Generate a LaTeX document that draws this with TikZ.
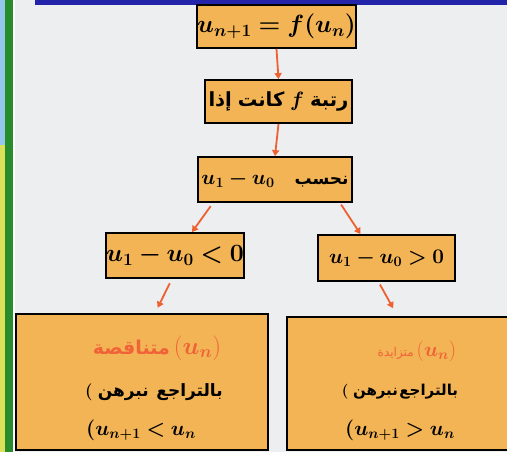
\documentclass[tikz,border=0pt]{standalone}
\usepackage{fontspec}
\usepackage{bm}
\usetikzlibrary{arrows.meta}
\newfontfamily\arabicfont[Script=Arabic]{DejaVu Sans}
\definecolor{bgc}{RGB}{236,238,240}
\definecolor{boxfill}{RGB}{242,180,84}
\definecolor{arrowc}{RGB}{238,96,48}
\definecolor{topbar}{RGB}{36,36,170}
\definecolor{greenbar}{RGB}{40,140,45}
\definecolor{bluestrip}{RGB}{150,200,235}
\definecolor{yellowstrip}{RGB}{220,225,90}
\definecolor{redtext}{RGB}{240,98,56}
% each word boxed on its own, so words stand left to right as in the picture
\newcommand{\aw}[1]{\hbox{\arabicfont\bfseries #1}}
\newcommand{\awn}[1]{\hbox{\arabicfont #1}}
\tikzset{
  mybox/.style={draw=black, line width=1.8pt, fill=boxfill, inner sep=0pt},
  myarr/.style={draw=arrowc, line width=1.8pt, -{Triangle[width=7pt,length=6pt]}},
  mytxt/.style={inner sep=0pt}
}
\begin{document}
\begin{tikzpicture}[x=1pt,y=1pt]
\useasboundingbox (0,0) rectangle (507,452);
\begin{scope}
\clip (0,0) rectangle (507,452);
\fill[bgc] (0,0) rectangle (507,452);
\fill[bluestrip] (0,307) rectangle (4.5,452);
\fill[yellowstrip] (0,0) rectangle (4.5,307);
\fill[greenbar] (5,0) rectangle (13,452);
\fill[white] (13,0) rectangle (15,452);
\fill[topbar] (35,447) rectangle (507,452);
\end{scope}
\node[mybox, minimum width=153pt, minimum height=43pt] (b1) at (276.5,425.5) {\fontsize{23.5}{27}\selectfont$\bm{u_{n+1}=f(u_n)}$};
\node[mybox, minimum width=147pt, minimum height=43pt] (b2) at (278.5,350.5) {\fontsize{19.5}{23}\selectfont\aw{إذا}\hspace{0.3em}\aw{كانت}\hspace{0.3em}$\bm{f}$\hspace{0.3em}\aw{رتبة}};
\node[mybox, minimum width=154pt, minimum height=45pt] (b3) at (275,272.5) {\fontsize{21}{25}\selectfont$\bm{u_1-u_0}$\hspace{20pt}{\fontsize{17}{21}\selectfont\aw{نحسب}}};
\node[mybox, minimum width=136pt, minimum height=45pt] (b4) at (175,196.5) {\fontsize{24}{28}\selectfont$\bm{u_1-u_0<0}$};
\node[mybox, minimum width=137pt, minimum height=46pt] (b5) at (386.5,194) {\fontsize{22.5}{26}\selectfont$\bm{u_1-u_0>0}$};
\begin{scope}
\clip (0,0) rectangle (507,452);
\node[mybox, minimum width=252pt, minimum height=136pt] (b6) at (142,70) {};
\node[mybox, minimum width=223pt, minimum height=133pt] (b7) at (398.5,68.5) {};
\end{scope}
\node[mytxt, text=redtext] (l1) at (157,104) {{\fontsize{19}{23}\selectfont\aw{متناقصة}}\hspace{4pt}{\fontsize{24}{28}\selectfont$\bigl(\bm{u_n}\bigr)$}};
\node[mytxt] (l2) at (154,60) {\fontsize{17}{21}\selectfont\hbox{\bfseries(}\hspace{0.3em}\aw{نبرهن}\hspace{0.45em}\aw{بالتراجع}};
\node[mytxt] (l3) at (141,22) {\fontsize{20}{24}\selectfont$\bm{(u_{n+1}<u_n}$};
\node[mytxt, text=redtext] (r1) at (417,101) {{\fontsize{12}{15}\selectfont\awn{متزايدة}}\hspace{3pt}{\fontsize{22}{26}\selectfont$\bigl(\bm{u_n}\bigr)$}};
\node[mytxt] (r2) at (400,60) {\fontsize{15}{19}\selectfont\hbox{\bfseries(}\hspace{0.3em}\aw{نبرهن}\hspace{0.1em}\aw{بالتراجع}};
\node[mytxt] (r3) at (400,22) {\fontsize{22}{26}\selectfont$\bm{(u_{n+1}>u_n}$};
\draw[myarr] (b1.south) -- (b2.north);
\draw[myarr] (b2.south) -- (b3.north);
\draw[myarr, shorten <=4pt] ([xshift=-62pt]b3.south) -- ([xshift=17pt]b4.north);
\draw[myarr, shorten <=2pt] ([xshift=65pt]b3.south) -- ([xshift=-26pt]b5.north);
\draw[myarr, shorten <=5pt, shorten >=6pt] ([xshift=-3pt]b4.south) -- ([xshift=13pt]b6.north);
\draw[myarr, shorten <=3pt, shorten >=9pt] ([xshift=-8pt]b5.south) -- ([xshift=-1pt]b7.north);
\end{tikzpicture}
\end{document}
